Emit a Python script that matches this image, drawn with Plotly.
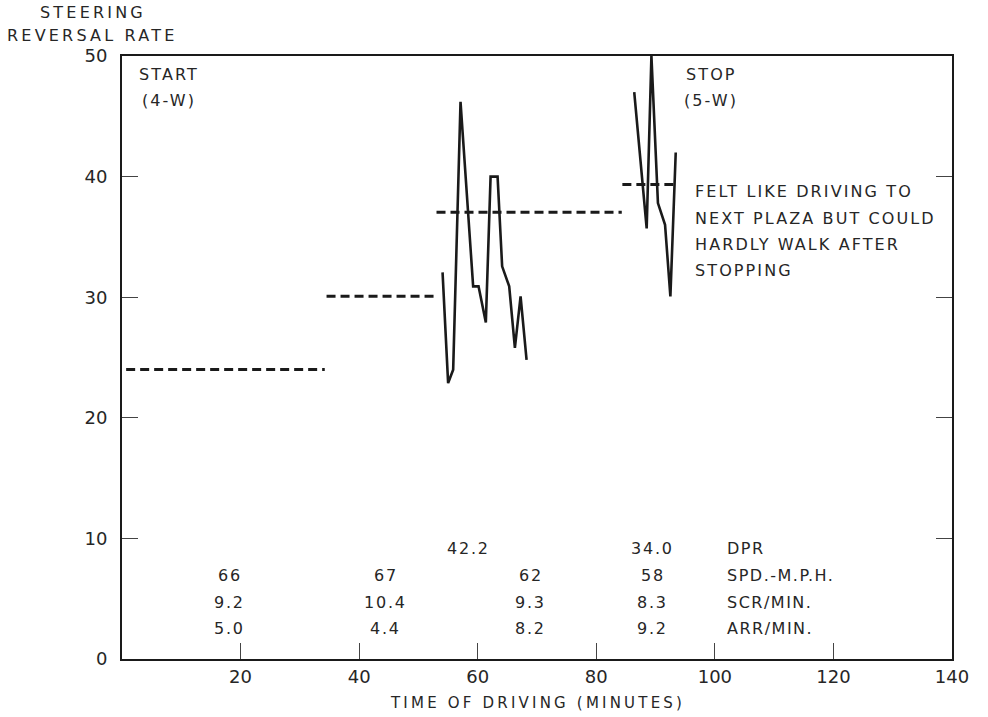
import plotly.graph_objects as go

# Mean steering reversal rate per driving segment (dashed levels)
seg_start = [0.7, 34.5, 53.05, 84.4]
seg_end = [34.2, 53.05, 84.3, 93.7]
seg_level = [24.0, 30.07, 37.04, 39.34]

# Minute-by-minute steering reversal rate, third segment
run1_t = [54.07, 55.01, 55.86, 57.10, 59.23, 60.14, 61.37, 62.17, 63.35, 64.12,
          65.31, 66.27, 67.23, 68.24]
run1_r = [32.06, 22.88, 23.98, 46.2, 30.9, 30.9, 27.9, 40.0, 40.0, 32.56,
          30.9, 25.8, 30.07, 24.8]

# Minute-by-minute steering reversal rate, final segment
run2_t = [86.4, 88.5, 89.3, 90.4, 91.6, 92.5, 93.4]
run2_r = [47.0, 35.7, 50.0, 37.8, 36.0, 30.07, 42.0]

# Summary table under the curves
col_x = [18.2, 44.5, 68.96, 89.5]
spd = ["66", "67", "62", "58"]
scr = ["9.2", "10.4", "9.3", "8.3"]
arr = ["5.0", "4.4", "8.2", "9.2"]
dpr_x = [58.5, 89.5]
dpr = ["42.2", "34.0"]
row_labels = ["DPR", "SPD.-M.P.H.", "SCR/MIN.", "ARR/MIN."]
row_y = [9.19, 6.95, 4.72, 2.57]
label_x = 101.7

x_ticks = [20, 40, 60, 80, 100, 120, 140]
y_ticks = [0, 10, 20, 30, 40, 50]

note_lines = ["FELT LIKE DRIVING TO", "NEXT PLAZA BUT COULD",
              "HARDLY WALK AFTER", "STOPPING"]
note_y = [38.74, 36.5, 34.35, 32.2]
note_x = 96.3

FONT = "DejaVu Sans"
INK = "#1a1a1a"
TXT = "#262626"

# Plot box in pixels
L, R, T, B = 122, 36, 56, 58
W, H = 988, 717
PW, PH = W - L - R, H - T - B


def spaced(text, px):
    return f'<span style="letter-spacing:{px}px">{text}</span>'


fig = go.Figure()

for s, e, lv in zip(seg_start, seg_end, seg_level):
    fig.add_trace(go.Scatter(x=[s, e], y=[lv, lv], mode="lines",
                             line=dict(color=INK, width=3, dash="9px,5px"),
                             hoverinfo="skip", showlegend=False))

for t, r in ((run1_t, run1_r), (run2_t, run2_r)):
    fig.add_trace(go.Scatter(x=t, y=r, mode="lines",
                             line=dict(color=INK, width=2.6),
                             cliponaxis=True, showlegend=False))

ann = []


def text(x, y, s, anchor="center", size=16, sp=2.1, xref="x", yref="y"):
    ann.append(dict(x=x, y=y, xref=xref, yref=yref, text=spaced(s, sp),
                    showarrow=False, xanchor=anchor, yanchor="middle",
                    font=dict(family=FONT, size=size, color=TXT)))


def px_x(px):
    return (px - L) / PW


def px_y(py):
    return (H - B - py) / PH


text(2.5, 48.5, "START", "left")
text(3.1, 46.3, "(4-W)", "left")
text(94.8, 48.5, "STOP", "left")
text(94.4, 46.3, "(5-W)", "left")
for line, yy in zip(note_lines, note_y):
    text(note_x, yy, line, "left")

for xx, v in zip(dpr_x, dpr):
    text(xx, row_y[0], v, sp=1.8)
for xx, a, b, c in zip(col_x, spd, scr, arr):
    text(xx, row_y[1], a, sp=1.8)
    text(xx, row_y[2], b, sp=1.8)
    text(xx, row_y[3], c, sp=1.8)
for lab, yy in zip(row_labels, row_y):
    text(label_x, yy, lab, "left", sp=1.5)

# Axis titles
text(px_x(93), px_y(13), "STEERING", sp=3.2, xref="paper", yref="paper")
text(px_x(92), px_y(36), "REVERSAL RATE", sp=3.2, xref="paper", yref="paper")
text(px_x(537), px_y(703), "TIME OF DRIVING (MINUTES)", size=15, sp=3.2,
     xref="paper", yref="paper")

fig.update_layout(
    width=W, height=H,
    margin=dict(l=L, r=R, t=T, b=B),
    paper_bgcolor="white", plot_bgcolor="white",
    annotations=ann,
    showlegend=False,
    xaxis=dict(range=[0, 140], tickvals=x_ticks, ticks="inside", ticklen=16,
               tickwidth=1.4, tickcolor="#444", showline=True, linecolor=INK,
               linewidth=2, mirror=True, showgrid=False, zeroline=False,
               ticklabelstandoff=0,
               tickfont=dict(family=FONT, size=18, color=TXT)),
    yaxis=dict(range=[0, 50], tickvals=y_ticks, ticks="inside", ticklen=16,
               tickwidth=1.4, tickcolor="#444", showline=True, linecolor=INK,
               linewidth=2, mirror="ticks", showgrid=False, zeroline=False,
               ticklabelstandoff=9,
               tickfont=dict(family=FONT, size=18, color=TXT)),
)

fig.write_html("out.html")
